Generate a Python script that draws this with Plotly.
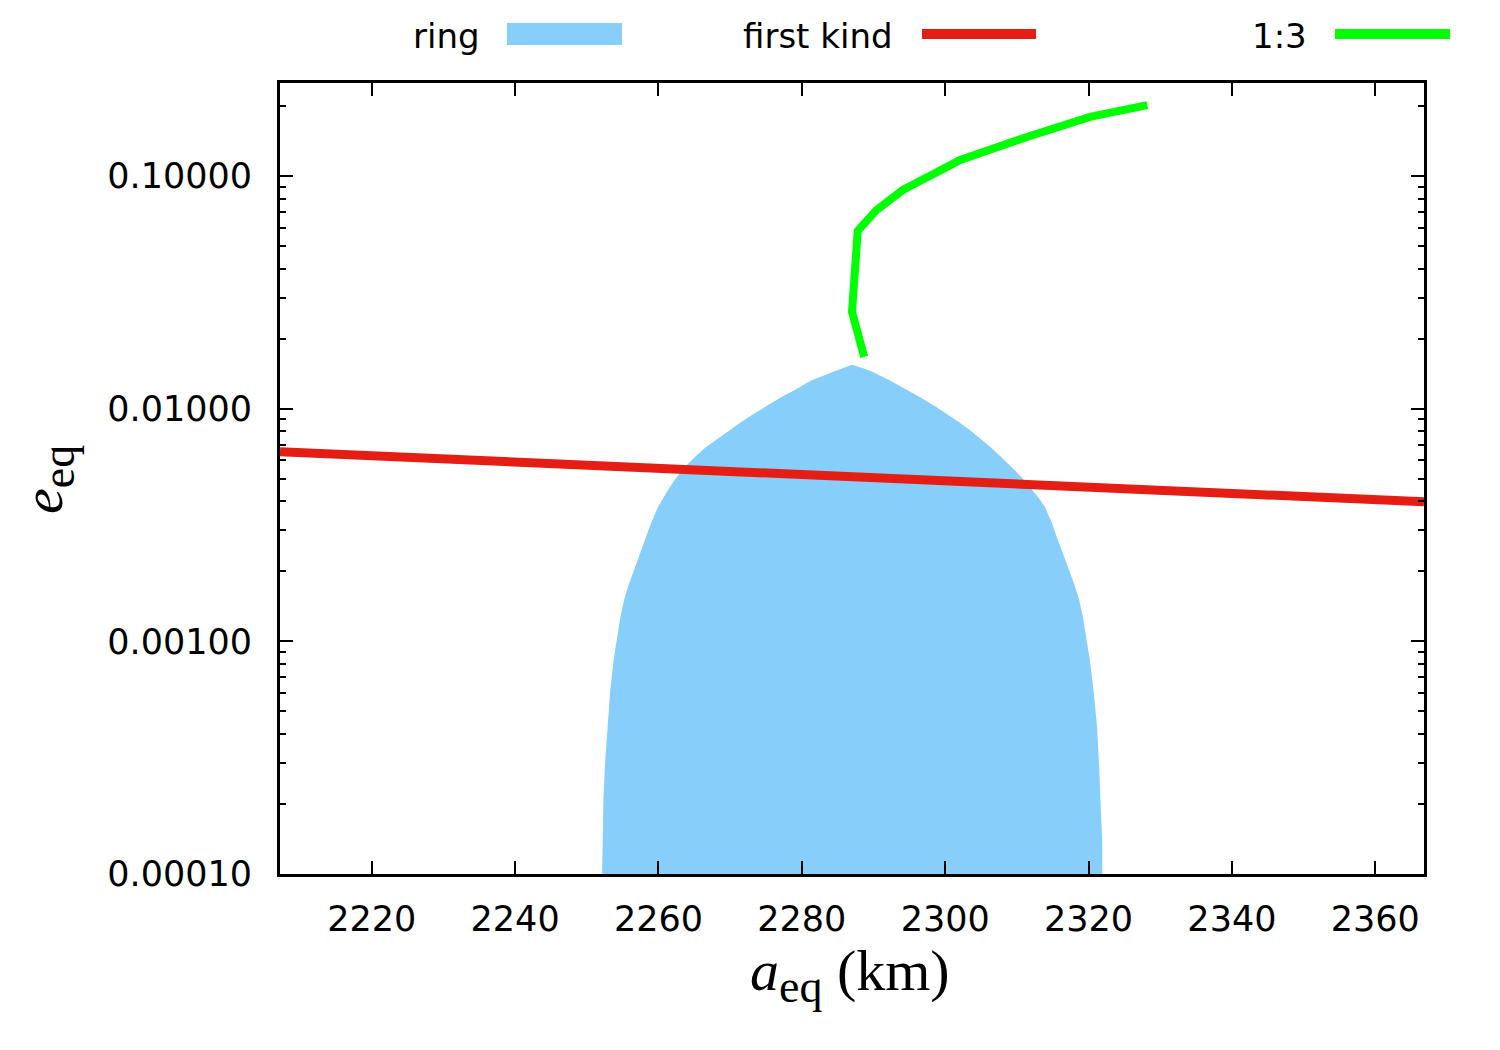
import plotly.graph_objects as go

# ---------------- data ----------------
# ring region: eccentricity levels with inner/outer semi-major-axis edges
ring_e = [0.0001, 0.000134, 0.000209, 0.000304, 0.000434, 0.000608, 0.000834,
          0.000958, 0.001090, 0.00129, 0.001511, 0.001752, 0.002032, 0.002357,
          0.002734, 0.003235, 0.00379, 0.004143, 0.00448, 0.0049, 0.00531,
          0.005741, 0.00622, 0.006792, 0.00735, 0.008037, 0.00870, 0.009417,
          0.01019, 0.01114, 0.01205, 0.01318, 0.01426, 0.01484, 0.01544]
ring_a_inner = [2252.14, 2252.18, 2252.32, 2252.56, 2252.91, 2253.26, 2253.75,
                2254.03, 2254.30, 2254.72, 2255.21, 2255.84, 2256.61, 2257.37,
                2258.14, 2258.98, 2259.96, 2260.65, 2261.35, 2262.19, 2263.03,
                2264.00, 2265.12, 2266.52, 2268.05, 2269.73, 2271.40, 2273.08,
                2274.89, 2276.99, 2279.08, 2281.22, 2284.03, 2285.50, 2286.99]
ring_a_outer = [2321.92, 2321.92, 2321.71, 2321.45, 2321.17, 2320.72, 2320.18,
                2319.90, 2319.59, 2319.17, 2318.69, 2318.02, 2317.27, 2316.52,
                2315.71, 2314.88, 2313.90, 2313.02, 2312.16, 2311.08, 2310.05,
                2308.93, 2307.76, 2306.42, 2305.13, 2303.56, 2302.05, 2300.43,
                2298.70, 2296.62, 2294.67, 2292.35, 2290.12, 2288.78, 2286.99]

# first kind
fk_a = [2207.2, 2366.8]
fk_e = [0.00653, 0.00398]

# 1:3 resonance
r13_a = [2288.7, 2287.0, 2287.8, 2290.4, 2294.1, 2302.1, 2311.4, 2320.2, 2328.2]
r13_e = [0.0167, 0.0261, 0.0581, 0.0714, 0.0871, 0.1172, 0.1472, 0.1795, 0.2018]

x_ticks = [2220, 2240, 2260, 2280, 2300, 2320, 2340, 2360]
y_ticks = [0.0001, 0.001, 0.01, 0.1]
y_tick_text = ["0.00010", "0.00100", "0.01000", "0.10000"]
y_minor = [k * 10.0 ** n for n in range(-4, 0) for k in range(2, 10) if k * 10.0 ** n < 0.25]

legend_names = ["ring", "first kind", "1:3"]

# ---------------- styles ----------------
RING_COLOR = "#87cefa"
RED = "#e41e14"
GREEN = "#00ff00"
W, H = 1500, 1050
ML, MR, MT, MB = 280, 76, 83, 176
PW, PH = W - ML - MR, H - MT - MB


def px2x(px):
    return (px - ML) / PW


def py2y(py):
    return (H - MB - py) / PH


fig = go.Figure()

poly_a = ring_a_inner + ring_a_outer[::-1]
poly_e = ring_e + ring_e[::-1]
fig.add_trace(go.Scatter(x=poly_a, y=poly_e, mode="lines", fill="toself",
                         fillcolor=RING_COLOR, line=dict(width=0, color=RING_COLOR),
                         name=legend_names[0], showlegend=False, hoverinfo="skip"))
fig.add_trace(go.Scatter(x=fk_a, y=fk_e, mode="lines", line=dict(color=RED, width=9),
                         name=legend_names[1], showlegend=False))
fig.add_trace(go.Scatter(x=r13_a, y=r13_e, mode="lines", line=dict(color=GREEN, width=8),
                         name=legend_names[2], showlegend=False))

tickfont = dict(family="DejaVu Sans", size=35, color="black")

fig.update_xaxes(range=[2207.2, 2366.8], tickvals=x_ticks, ticks="inside", ticklen=13,
                 tickwidth=2, tickcolor="black", showline=True, linewidth=3, linecolor="black",
                 mirror="ticks", showgrid=False, zeroline=False, tickfont=tickfont,
                 ticklabelstandoff=12)
fig.update_yaxes(type="log", range=[-4, -0.6], tickvals=y_ticks, ticktext=y_tick_text,
                 ticks="inside", ticklen=13, tickwidth=2, tickcolor="black", showline=True,
                 linewidth=3, linecolor="black", mirror="ticks", showgrid=False,
                 zeroline=False, tickfont=tickfont, ticklabelstandoff=18,
                 minor=dict(tickvals=y_minor, ticks="inside", ticklen=6, tickwidth=2,
                            tickcolor="black", showgrid=False))

annotations = [
    dict(text="<i>a</i><sub><span style='font-size:46px'>eq</span></sub> (km)",
         x=px2x(850), y=py2y(975), xref="paper", yref="paper",
         xanchor="center", yanchor="middle", showarrow=False,
         font=dict(family="Liberation Serif", size=58, color="black")),
    dict(text="<i>e</i><sub><span style='font-size:46px'>eq</span></sub>",
         x=px2x(47), y=py2y(480), xref="paper", yref="paper",
         xanchor="center", yanchor="middle", showarrow=False, textangle=-90,
         font=dict(family="Liberation Serif", size=58, color="black")),
]
shapes = []
legend_font = dict(family="DejaVu Sans", size=34, color="black")
text_right = [482, 895, 1309]
swatch_x = [(507, 622), (922, 1036), (1335, 1450)]
for i, name in enumerate(legend_names):
    annotations.append(dict(text=name, x=px2x(text_right[i]), y=py2y(36), xref="paper",
                            yref="paper", xanchor="right", yanchor="middle", showarrow=False,
                            font=legend_font))
x0, x1 = swatch_x[0]
shapes.append(dict(type="rect", xref="paper", yref="paper", x0=px2x(x0), x1=px2x(x1),
                   y0=py2y(23), y1=py2y(45), fillcolor=RING_COLOR, line=dict(width=0)))
for i, col in [(1, RED), (2, GREEN)]:
    x0, x1 = swatch_x[i]
    shapes.append(dict(type="line", xref="paper", yref="paper", x0=px2x(x0), x1=px2x(x1),
                       y0=py2y(34), y1=py2y(34), line=dict(color=col, width=10)))

fig.update_layout(width=W, height=H, margin=dict(l=ML, r=MR, t=MT, b=MB),
                  plot_bgcolor="white", paper_bgcolor="white", showlegend=False,
                  annotations=annotations, shapes=shapes)

fig.write_html("out.html")
